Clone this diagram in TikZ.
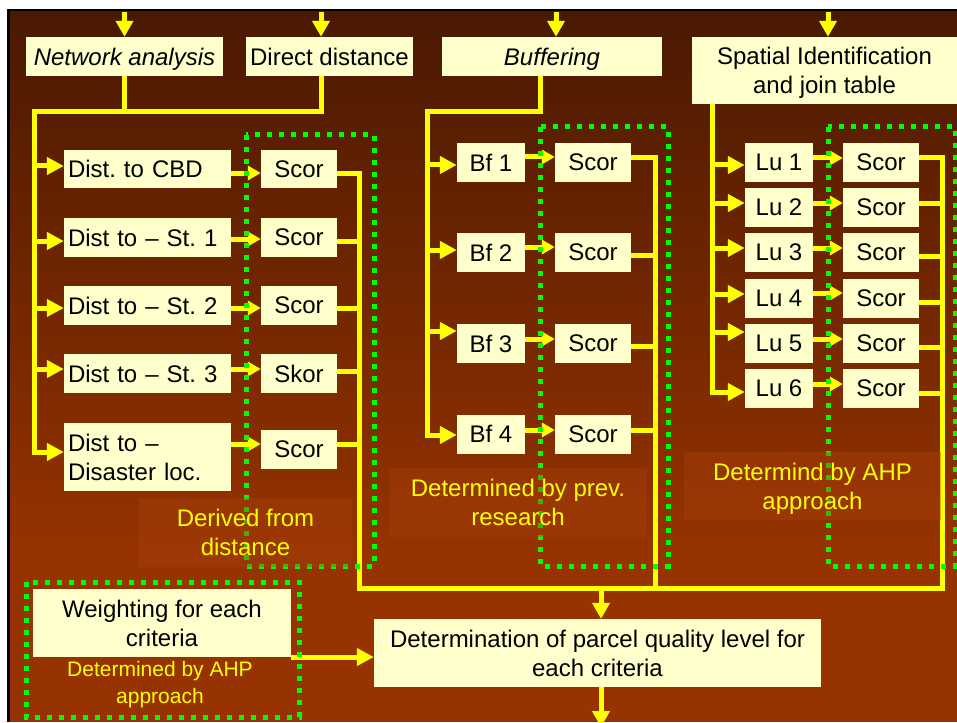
\documentclass[tikz,border=0pt]{standalone}
\usepackage{fontspec}
\setmainfont{Liberation Sans}
\usetikzlibrary{arrows.meta}
\definecolor{cream}{HTML}{FFFFCC}
\definecolor{yel}{HTML}{FFFF00}
\definecolor{grn}{HTML}{00FF00}
\definecolor{bgtop}{HTML}{4A1902}
\definecolor{bgbot}{HTML}{973300}
\definecolor{labc}{HTML}{A8400A}
\frenchspacing
\begin{document}
\begin{tikzpicture}[x=1pt,y=-1pt,
  box/.style={fill=cream, inner sep=0pt, text=black, font=\fontsize{24}{29}\selectfont, align=center},
  lbox/.style={box, align=left, text width=159pt, inner xsep=4pt},
  sbox/.style={box, minimum width=76pt, minimum height=39pt},
  nbox/.style={box, minimum width=68pt, minimum height=39pt},
  flow/.style={draw=yel, line width=5pt},
  arr/.style={flow, -{Triangle[length=17pt,width=17pt]}},
  sarr/.style={flow, -{Triangle[length=13pt,width=14pt]}},
  grbox/.style={draw=grn, line width=5pt, dash pattern=on 5pt off 7pt},
  labbg/.style={fill=labc, fill opacity=0.4, text opacity=1, text=yel, inner sep=0pt, align=center, font=\fontsize{24}{29}\selectfont}
]
\useasboundingbox (0,0) rectangle (957,722);
\fill[white] (0,0) rectangle (957,722);
\fill[black] (7,9) rectangle (957,722);
\shade[top color=bgtop, bottom color=bgbot] (10,12) rectangle (957,560);
\fill[bgbot] (10,559.5) rectangle (957,722);

% header boxes
\node[box, font=\fontsize{24}{29}\selectfont\itshape, text depth=0pt, minimum width=197pt, minimum height=39pt] (na) at (124.5,56.5) {Network analysis};
\node[box, minimum width=167pt, minimum height=39pt] (dd) at (329.5,56.5) {Direct distance};
\node[box, font=\fontsize{24}{29}\selectfont\itshape, text depth=0pt, minimum width=220pt, minimum height=39pt] (bf) at (552,56.5) {Buffering};
\node[box, text depth=0pt, minimum width=265pt, minimum height=67pt] (sp) at (824.5,70.5) {Spatial Identification\\and join table};

% column 1
\node[lbox, minimum height=38pt] (cbd) at (147.5,169) {Dist. to CBD};
\node[lbox, minimum height=39pt] (st1) at (147.5,237.5) {Dist to – St. 1};
\node[lbox, minimum height=39pt] (st2) at (147.5,305.5) {Dist to – St. 2};
\node[lbox, minimum height=39pt] (st3) at (147.5,373.5) {Dist to – St. 3};
\node[lbox, minimum height=68pt] (dis) at (147.5,457) {Dist to –\\Disaster loc.};
\node[sbox, minimum height=38pt] (c1) at (299,169) {Scor};
\node[sbox] (c2) at (299,237.5) {Scor};
\node[sbox] (c3) at (299,305.5) {Scor};
\node[sbox] (c4) at (299,373.5) {Skor};
\node[sbox] (c5) at (299,449.5) {Scor};

% column 2
\node[nbox] (b1) at (491,162.5) {Bf 1};
\node[nbox] (b2) at (491,252.5) {Bf 2};
\node[nbox] (b3) at (491,343.5) {Bf 3};
\node[nbox] (b4) at (491,434) {Bf 4};
\node[sbox] (d1) at (593,162.5) {Scor};
\node[sbox] (d2) at (593,252.5) {Scor};
\node[sbox] (d3) at (593,343.5) {Scor};
\node[sbox] (d4) at (593,434) {Scor};

% column 3
\node[nbox] (l1) at (779,162.5) {Lu 1};
\node[nbox] (l2) at (779,207.5) {Lu 2};
\node[nbox] (l3) at (779,252.5) {Lu 3};
\node[nbox] (l4) at (779,298.5) {Lu 4};
\node[nbox] (l5) at (779,343.5) {Lu 5};
\node[nbox] (l6) at (779,388.5) {Lu 6};
\node[sbox] (e1) at (881,162.5) {Scor};
\node[sbox] (e2) at (881,207.5) {Scor};
\node[sbox] (e3) at (881,252.5) {Scor};
\node[sbox] (e4) at (881,298.5) {Scor};
\node[sbox] (e5) at (881,343.5) {Scor};
\node[sbox] (e6) at (881,388.5) {Scor};

% bottom boxes
\node[box, minimum width=258pt, minimum height=68pt] (wt) at (162,623) {Weighting for each\\criteria};
\node[text=yel, inner sep=0pt, align=center, text depth=0pt, font=\fontsize{21}{27}\selectfont] (wsub) at (160,682) {Determined by AHP\\approach};
\node[box, minimum width=447pt, minimum height=68pt] (det) at (597.5,653) {Determination of parcel quality level for\\each criteria};

% header input arrows
\coordinate (ina) at (na.north);
\coordinate (idd) at ([xshift=-8.5pt]dd.north);
\coordinate (ibf) at ([xshift=4pt]bf.north);
\coordinate (isp) at ([xshift=3.5pt]sp.north);
\foreach \c in {ina,idd,ibf,isp} \draw[flow, -{Triangle[length=16pt,width=17pt]}] (\c |- 0,12) -- (\c);

% network / direct distance bus
\draw[flow] (na.south) -- (na.south |- 0,112);
\draw[arr] ([xshift=-8.5pt]dd.south) |- (34,112) |- (dis.west |- 0,452);
\draw[arr] (34,166) -- (cbd.west |- 0,166);
\draw[arr] (34,241) -- (st1.west |- 0,241);
\draw[arr] (34,308) -- (st2.west |- 0,308);
\draw[arr] (34,369) -- (st3.west |- 0,369);
\draw[sarr] (cbd.east |- 0,173) -- (c1.west |- 0,173);
\draw[sarr] (st1.east |- 0,239) -- (c2.west |- 0,239);
\draw[sarr] (st2.east |- 0,308) -- (c3.west |- 0,308);
\draw[sarr] (st3.east |- 0,369) -- (c4.west |- 0,369);
\draw[sarr] (dis.east |- 0,444) -- (c5.west |- 0,444);

% buffering bus
\draw[arr] ([xshift=-12pt]bf.south) |- (427,112) |- (b4.west |- 0,435);
\draw[arr] (427,165) -- (b1.west |- 0,165);
\draw[arr] (427,250) -- (b2.west |- 0,250);
\draw[arr] (427,331) -- (b3.west |- 0,331);
\draw[sarr] (b1.east |- 0,157) -- (d1.west |- 0,157);
\draw[sarr] (b2.east |- 0,247) -- (d2.west |- 0,247);
\draw[sarr] (b3.east |- 0,339) -- (d3.west |- 0,339);
\draw[sarr] (b4.east |- 0,430) -- (d4.west |- 0,430);

% spatial bus
\draw[arr] ([xshift=21pt]sp.south west) |- (l6.west |- 0,392);
\draw[arr] (713,165) -- (l1.west |- 0,165);
\draw[arr] (713,203) -- (l2.west |- 0,203);
\draw[arr] (713,248) -- (l3.west |- 0,248);
\draw[arr] (713,294) -- (l4.west |- 0,294);
\draw[arr] (713,332) -- (l5.west |- 0,332);
\draw[sarr] (l1.east |- 0,158) -- (e1.west |- 0,158);
\draw[sarr] (l2.east |- 0,203) -- (e2.west |- 0,203);
\draw[sarr] (l3.east |- 0,248) -- (e3.west |- 0,248);
\draw[sarr] (l4.east |- 0,293) -- (e4.west |- 0,293);
\draw[sarr] (l5.east |- 0,339) -- (e5.west |- 0,339);
\draw[sarr] (l6.east |- 0,384) -- (e6.west |- 0,384);

% collectors
\draw[flow] (c1.east |- 0,173) -| (359,588) -| (942,158) -- (e1.east |- 0,158);
\draw[flow] (d1.east |- 0,158) -| (655,588);
\draw[flow] (c2.east |- 0,241) -- (359,241);
\draw[flow] (c3.east |- 0,308) -- (359,308);
\draw[flow] (c4.east |- 0,371) -- (359,371);
\draw[flow] (c5.east |- 0,444) -- (359,444);
\draw[flow] (d2.east |- 0,255) -- (655,255);
\draw[flow] (d3.east |- 0,346) -- (655,346);
\draw[flow] (d4.east |- 0,430) -- (655,430);
\draw[flow] (e2.east |- 0,203) -- (942,203);
\draw[flow] (e3.east |- 0,256) -- (942,256);
\draw[flow] (e4.east |- 0,302) -- (942,302);
\draw[flow] (e5.east |- 0,347) -- (942,347);
\draw[flow] (e6.east |- 0,393) -- (942,393);

% into / out of determination
\coordinate (dj) at (601,588);
\draw[flow, -{Triangle[length=16pt,width=17pt]}] (dj) -- (dj |- det.north);
\draw[flow, -{Triangle[length=16pt,width=17pt]}] (dj |- det.south) -- (dj |- 0,727);
\draw[arr] (wt.east |- 0,657) -- (det.west |- 0,657);

% green dotted groups
\draw[grbox] (246,135) rectangle (374,566);
\draw[grbox] (540,127) rectangle (668,566);
\draw[grbox] (828,127) rectangle (955,566);
\draw[grbox] (26,582) rectangle (299,717);

% source labels
\node[labbg, minimum width=213pt, minimum height=69pt] (lab1) at (245.5,532.5) {Derived from\\distance};
\node[labbg, minimum width=258pt, minimum height=69pt] (lab2) at (518,502.5) {Determined by prev.\\research};
\node[labbg, text depth=0pt, minimum width=257pt, minimum height=68pt] (lab3) at (812.5,486) {Determind by AHP\\approach};
\end{tikzpicture}
\end{document}
